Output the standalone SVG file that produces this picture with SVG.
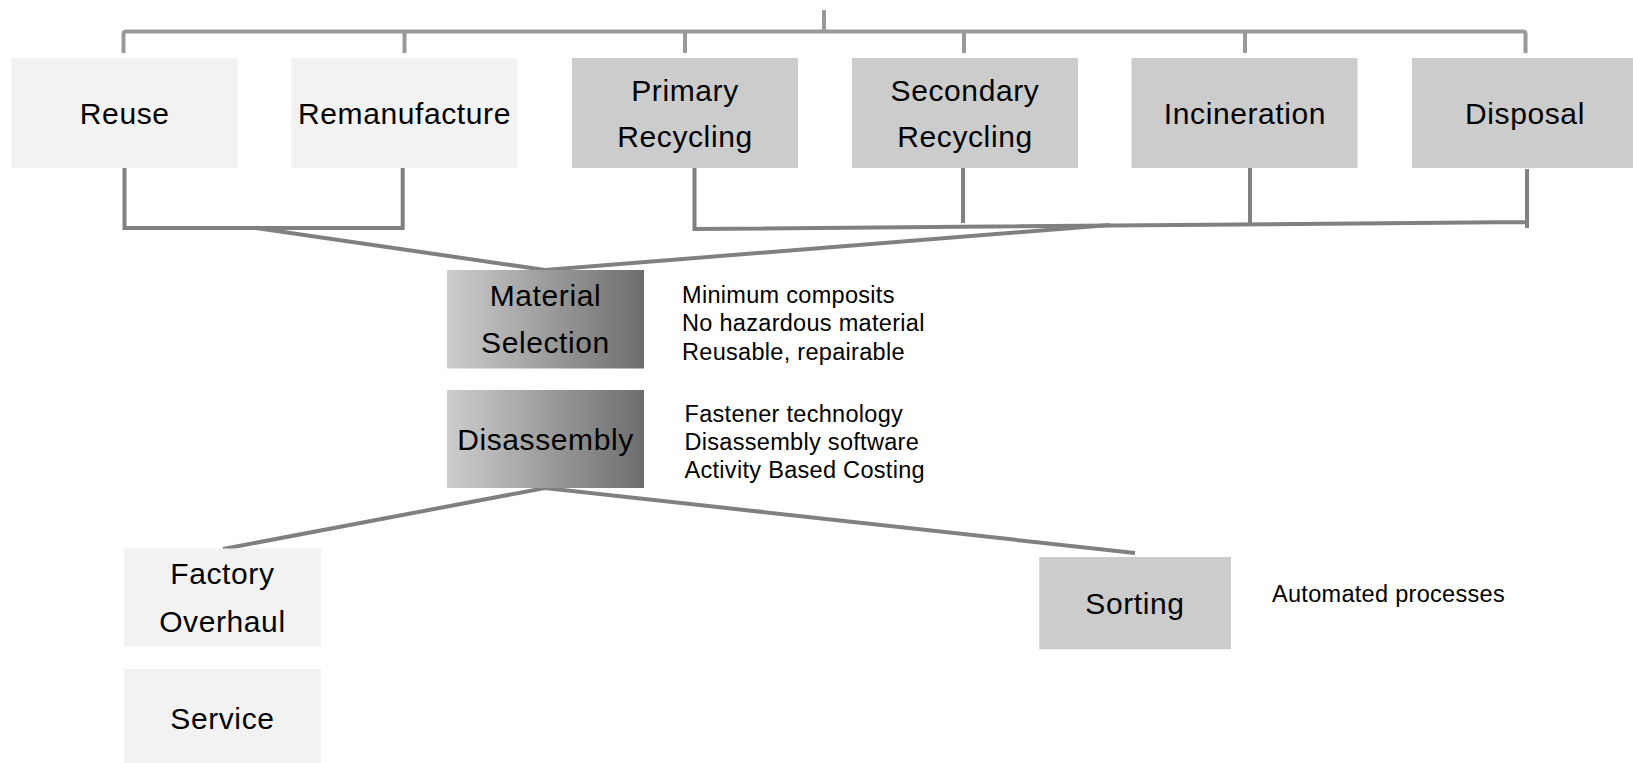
<svg xmlns="http://www.w3.org/2000/svg" width="1633" height="763" viewBox="0 0 1633 763">
<style>
.box{stroke:none}
.light{fill:#f2f2f2}
.mid{fill:#cccccc}
.grad{fill:url(#g1)}
.lbl{font-family:"Liberation Sans",Arial,sans-serif;font-size:30px;letter-spacing:0.6px;fill:#000;text-anchor:middle}
.note{font-family:"Liberation Sans",Arial,sans-serif;font-size:23.5px;letter-spacing:0.3px;fill:#000}
.top{fill:none;stroke:#999999;stroke-width:4;stroke-linejoin:round}
.low{fill:none;stroke:#808080;stroke-width:4}
</style>
<defs>
<linearGradient id="g1" x1="0" y1="0" x2="1" y2="0">
<stop offset="0" stop-color="#cdcdcd"/>
<stop offset="1" stop-color="#6d6d6d"/>
</linearGradient>
</defs>
<g id="connectors">
<path class="top" d="M824,10 V31.5 M123.5,53 V34 Q123.5,31.5 126,31.5 H1523 Q1525.5,31.5 1525.5,34 V53 M404.5,31.5 V53 M685,31.5 V53 M964,31.5 V53 M1245,31.5 V53"/>
<path class="low" d="M124.5,165 V228 H402.7 V168"/>
<path class="low" d="M694.5,168 V229 L1527,222 M1527,169 V228 M963,163 V223 M1250,167 V223"/>
<path class="low" d="M256,228 L545,270 L1110,225"/>
<path class="low" d="M223,549 L545,488 L1135,553"/>
</g>
<g id="reuse"><rect class="box light" x="11.5" y="58" width="226" height="110"/><text class="lbl" x="124.7" y="124">Reuse</text></g>
<g id="remanufacture"><rect class="box light" x="291.3" y="58" width="226" height="110"/><text class="lbl" x="404.5" y="124">Remanufacture</text></g>
<g id="primary-recycling"><rect class="box mid" x="572" y="58" width="226" height="110"/><text class="lbl" x="685" y="101">Primary</text><text class="lbl" x="685" y="147">Recycling</text></g>
<g id="secondary-recycling"><rect class="box mid" x="852" y="58" width="226" height="110"/><text class="lbl" x="965" y="101">Secondary</text><text class="lbl" x="965" y="147">Recycling</text></g>
<g id="incineration"><rect class="box mid" x="1131.5" y="58" width="226" height="110"/><text class="lbl" x="1245" y="124">Incineration</text></g>
<g id="disposal"><rect class="box mid" x="1412" y="58" width="226" height="110"/><text class="lbl" x="1525" y="124">Disposal</text></g>
<g id="material-selection"><rect class="box grad" x="447" y="270" width="197" height="98.5"/><text class="lbl" x="545.5" y="306">Material</text><text class="lbl" x="545.5" y="353">Selection</text></g>
<g id="material-notes"><text class="note" x="682" y="302.5">Minimum composits</text><text class="note" x="682" y="331">No hazardous material</text><text class="note" x="682" y="359.5">Reusable, repairable</text></g>
<g id="disassembly"><rect class="box grad" x="447" y="390" width="197" height="98"/><text class="lbl" x="545.5" y="450">Disassembly</text></g>
<g id="disassembly-notes"><text class="note" x="684.5" y="421.5">Fastener technology</text><text class="note" x="684.5" y="450">Disassembly software</text><text class="note" x="684.5" y="478">Activity Based Costing</text></g>
<g id="factory-overhaul"><rect class="box light" x="124" y="548.5" width="197" height="98"/><text class="lbl" x="222.4" y="584">Factory</text><text class="lbl" x="222.4" y="631.5">Overhaul</text></g>
<g id="service"><rect class="box light" x="124" y="669" width="197" height="94"/><text class="lbl" x="222.4" y="729">Service</text></g>
<g id="sorting"><rect class="box mid" x="1039.3" y="557" width="191.7" height="92.3"/><text class="lbl" x="1135" y="614">Sorting</text></g>
<g id="sorting-notes"><text class="note" x="1272" y="601.5">Automated processes</text></g>
</svg>
